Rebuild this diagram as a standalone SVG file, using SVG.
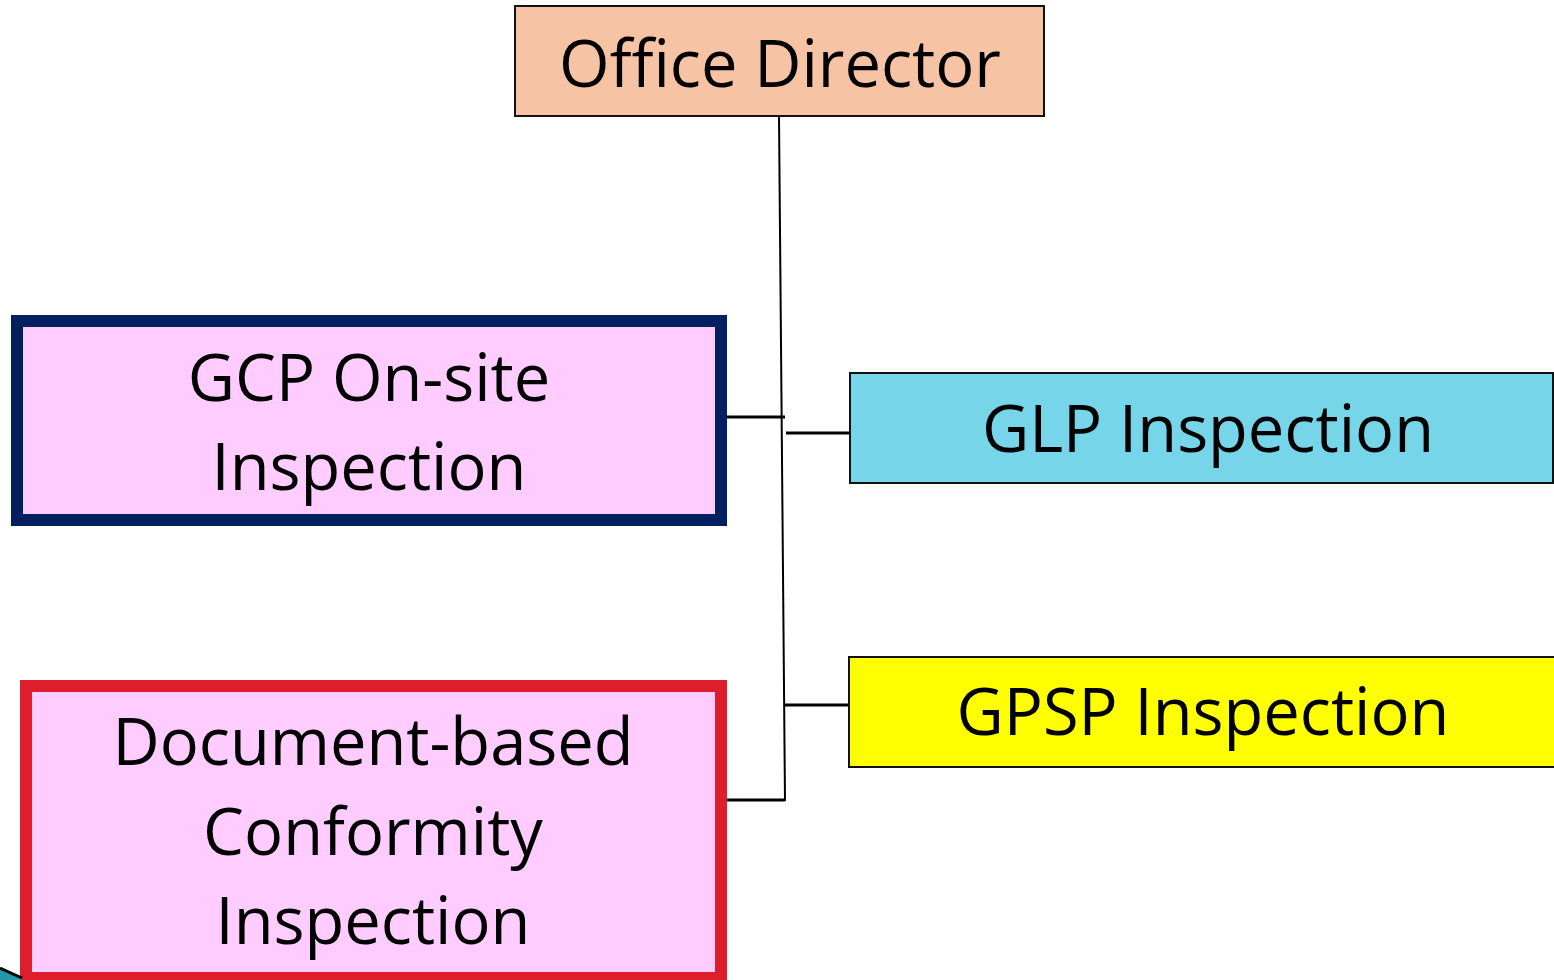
<svg xmlns="http://www.w3.org/2000/svg" width="1554" height="980" viewBox="0 0 1554 980">
<style>
  .t { font-family: "Open Sans", "Liberation Sans", sans-serif; font-size: 65px; fill: #000; text-anchor: middle; }
  .thin { stroke: #111; stroke-width: 2; }
  .conn { stroke: #000; stroke-width: 3; fill: none; }
</style>
<rect width="1554" height="980" fill="#ffffff"/>
<g id="connectors">
  <line x1="779" y1="116" x2="785" y2="801" stroke="#000" stroke-width="2"/>
  <line class="conn" x1="721" y1="417" x2="785" y2="417"/>
  <line class="conn" x1="786" y1="433" x2="850" y2="433"/>
  <line class="conn" x1="785" y1="705" x2="849" y2="705"/>
  <line class="conn" x1="721" y1="800" x2="785" y2="800"/>
</g>
<g id="office-director">
  <rect x="515" y="6" width="529" height="110" fill="#F7C3A5" class="thin"/>
  <text class="t" x="780" y="87">Office Director</text>
</g>
<g id="gcp">
  <rect x="17" y="321" width="704" height="199" fill="#FFCCFF" stroke="#002060" stroke-width="12"/>
  <text class="t" x="369" y="401">GCP On-site</text>
  <text class="t" x="369" y="490">Inspection</text>
</g>
<g id="glp">
  <rect x="850" y="373" width="703" height="110" fill="#77D5EA" class="thin"/>
  <text class="t" x="1208" y="452">GLP Inspection</text>
</g>
<g id="gpsp">
  <rect x="849" y="657" width="710" height="110" fill="#FFFF00" class="thin"/>
  <text class="t" x="1203" y="735">GPSP Inspection</text>
</g>
<g id="document-based">
  <rect x="26" y="686" width="695" height="292" fill="#FFCCFF" stroke="#DC1F2A" stroke-width="12"/>
  <text class="t" x="373" y="765">Document-based</text>
  <text class="t" x="373" y="855">Conformity</text>
  <text class="t" x="373" y="944">Inspection</text>
</g>
<g id="corner-fragment">
  <polygon points="0,968 22,978 22,980 0,980" fill="#2396A8"/>
  <line x1="0" y1="968" x2="22" y2="978" stroke="#000" stroke-width="3"/>
</g>
</svg>
